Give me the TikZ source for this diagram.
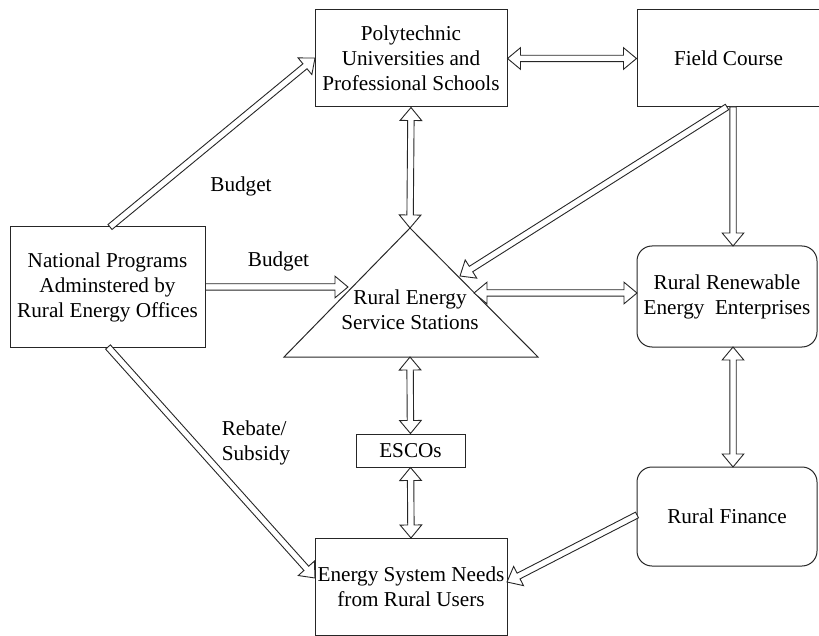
\documentclass[tikz,border=0pt]{standalone}
\usepackage{fontspec}
\setmainfont{Liberation Serif}
\usetikzlibrary{calc}
\tikzset{
  box/.style={draw=black!85, line width=0.5pt, inner sep=0pt, align=center, font=\fontsize{10.6}{12.5}\selectfont},
  rbox/.style={box, rounded corners=7.5pt},
  lbl/.style={inner sep=0pt, align=left, font=\fontsize{10.6}{12.5}\selectfont},
  conn/.style={draw=black!85, line width=0.45pt, fill=white, line join=miter},
}
\def\sw{1.6pt}
\def\hw{5.4pt}
\def\hl{6.5pt}
\newcommand\sarrow[2]{%
  \path[conn] let \p1=(#1), \p2=(#2), \n1={atan2(\y2-\y1,\x2-\x1)}, \n2={veclen(\x2-\x1,\y2-\y1)} in
    ($(\p1)+({\n1+90}:\sw)$) -- ($(\p1)+(\n1:{\n2-\hl})+({\n1+90}:\sw)$) -- ($(\p1)+(\n1:{\n2-\hl})+({\n1+90}:\hw)$)
    -- (\p2) -- ($(\p1)+(\n1:{\n2-\hl})+({\n1-90}:\hw)$) -- ($(\p1)+(\n1:{\n2-\hl})+({\n1-90}:\sw)$)
    -- ($(\p1)+({\n1-90}:\sw)$) -- cycle;}
\newcommand\darrow[2]{%
  \path[conn] let \p1=(#1), \p2=(#2), \n1={atan2(\y2-\y1,\x2-\x1)}, \n2={veclen(\x2-\x1,\y2-\y1)} in
    ($(\p1)+(\n1:\hl)+({\n1+90}:\sw)$) -- ($(\p1)+(\n1:{\n2-\hl})+({\n1+90}:\sw)$) -- ($(\p1)+(\n1:{\n2-\hl})+({\n1+90}:\hw)$)
    -- (\p2) -- ($(\p1)+(\n1:{\n2-\hl})+({\n1-90}:\hw)$) -- ($(\p1)+(\n1:{\n2-\hl})+({\n1-90}:\sw)$)
    -- ($(\p1)+(\n1:\hl)+({\n1-90}:\sw)$) -- ($(\p1)+(\n1:\hl)+({\n1-90}:\hw)$) -- (\p1)
    -- ($(\p1)+(\n1:\hl)+({\n1+90}:\hw)$) -- cycle;}
\begin{document}
\begin{tikzpicture}[x=0.5pt, y=-0.5pt]
\useasboundingbox (0,0) rectangle (819,636);
% nodes
\node[box, minimum width=96pt, minimum height=48.5pt] (poly) at (411,58.5) {Polytechnic\\Universities and\\Professional Schools};
\node[box, minimum width=91.5pt, minimum height=48.5pt] (field) at (728.5,58.5) {Field Course};
\node[box, minimum width=97.5pt, minimum height=60pt] (nat) at (107.5,287) {National Programs\\Adminstered by\\Rural Energy Offices};
\node[rbox, minimum width=90pt, minimum height=50.5pt] (renew) at (727,296.5) {Rural Renewable\\Energy\ \ Enterprises};
\node[rbox, minimum width=90pt, minimum height=49.5pt] (fin) at (727,516.5) {Rural Finance};
\node[box, minimum width=54.5pt, minimum height=16.5pt] (esco) at (410.5,450.5) {ESCOs};
\node[box, minimum width=96pt, minimum height=48.5pt] (users) at (411,587) {Energy System Needs\\from Rural Users};
% triangle
\coordinate (tA) at (410,228);
\coordinate (tL) at (284,357);
\coordinate (tR) at (538,357);
\draw[draw=black!85, line width=0.5pt, line join=miter] (tA) -- (tL) -- (tR) -- cycle;
\node[lbl, align=center] (stn) at (410,310) {Rural Energy\\Service Stations};
% labels
\node[lbl] (b1) at (241,186) {Budget};
\node[lbl] (b2) at (278.5,261) {Budget};
\node[lbl] (reb) at (256,443) {Rebate/\\Subsidy};
% connector end points
\coordinate (natT) at (110,227);
\coordinate (polyL) at (315,58);
\coordinate (triBud) at (348,287);
\coordinate (natB) at (108,347);
\coordinate (usersL) at (315,578);
\coordinate (fieldB1) at (727,107);
\coordinate (triF) at (460,276);
\coordinate (fieldB2) at (733,107);
\coordinate (renewT) at (733,246);
\coordinate (triR) at (474,293);
\coordinate (renewL) at (637,293);
\coordinate (renewB) at (733,347);
\coordinate (finT) at (733,467);
\coordinate (triB) at (410,357);
\coordinate (finL) at (637,515);
\coordinate (usersR) at (507,582);
% connectors
\sarrow{natT}{polyL}
\sarrow{nat.east}{triBud}
\sarrow{natB}{usersL}
\darrow{poly.south}{tA}
\darrow{poly.east}{field.west}
\sarrow{fieldB1}{triF}
\sarrow{fieldB2}{renewT}
\darrow{triR}{renewL}
\darrow{renewB}{finT}
\darrow{triB}{esco.north}
\darrow{esco.south}{users.north}
\sarrow{finL}{usersR}
\end{tikzpicture}
\end{document}
